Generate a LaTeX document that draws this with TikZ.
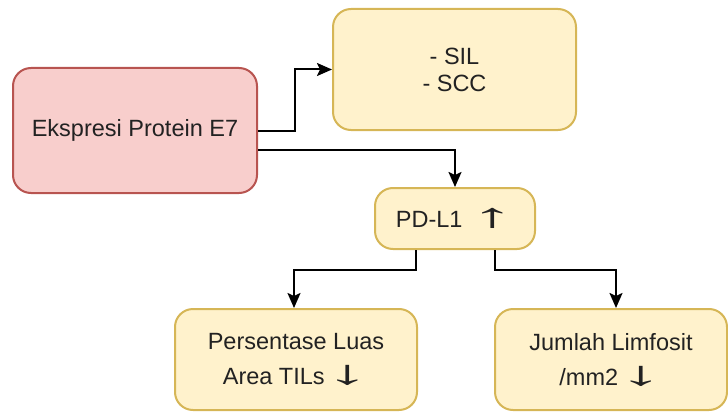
\documentclass[tikz,border=0pt]{standalone}
\usepackage{fontspec}
\setmainfont{Liberation Sans}
\usetikzlibrary{arrows.meta}
\definecolor{yfill}{HTML}{FFF2CC}
\definecolor{ydraw}{HTML}{D6B656}
\definecolor{rfill}{HTML}{F8CECC}
\definecolor{rdraw}{HTML}{B85450}
\definecolor{txt}{HTML}{222222}
\newcommand{\uparr}{\scalebox{3.7}[1.45]{↑}}
\newcommand{\dnarr}{\scalebox{3.7}[1.45]{↓}}
\begin{document}
\begin{tikzpicture}[x=1pt,y=-1pt,
  box/.style={draw=ydraw,fill=yfill,line width=2pt,rounded corners=18pt,
    inner sep=0pt,align=center,text=txt,font=\fontsize{23.5}{27}\selectfont},
  redbox/.style={box,draw=rdraw,fill=rfill},
  arr/.style={line width=2pt,-{Stealth[length=15pt,width=13pt,inset=3pt]}}]
\useasboundingbox (0,0) rectangle (728,412);
\node[redbox,minimum width=244pt,minimum height=125pt] (red) at (135,130.5) {Ekspresi Protein E7};
\node[box,minimum width=243pt,minimum height=121pt] (sil) at (454.5,69.5) {- SIL\\- SCC};
\node[box,minimum width=160pt,minimum height=61pt] (pdl) at (455,218.5) {PD-L1\hspace{8pt}\uparr};
\node[box,minimum width=242pt,minimum height=101pt,font=\fontsize{23.5}{35}\selectfont] (pers) at (296,359.5) {Persentase Luas\\Area TILs\hspace{1pt}\dnarr};
\node[box,minimum width=232pt,minimum height=101pt,font=\fontsize{23.5}{35}\selectfont] (jum) at (611,359.5) {Jumlah Limfosit\\/mm2\hspace{1pt}\dnarr};
\draw[arr] (red.east) -- ++(37,0) |- (sil.west);
\draw[arr] ([yshift=-19.5pt]red.east) -| (pdl.north);
\draw[arr] ([xshift=-39pt]pdl.south) -- ++(0,20) -| ([xshift=-2pt]pers.north);
\draw[arr] ([xshift=40pt]pdl.south) -- ++(0,20) -| ([xshift=5pt]jum.north);
\end{tikzpicture}
\end{document}
